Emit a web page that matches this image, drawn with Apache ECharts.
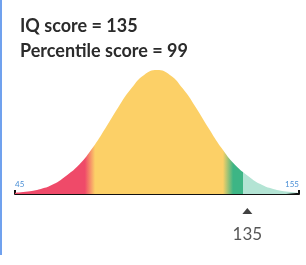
<!DOCTYPE html>
<html>
<head>
<meta charset="utf-8">
<script src="https://cdn.jsdelivr.net/npm/echarts@6/dist/echarts.min.js"></script>
<style>
  html, body { margin: 0; padding: 0; background: #fff; }
  #wrap { position: relative; width: 306px; height: 265px; }
  #bar { position: absolute; left: 0; top: 0; width: 2px; height: 255px; background: #70a1ee; }
  #chart { width: 306px; height: 265px; }
</style>
</head>
<body>
<div id="wrap">
  <div id="chart"></div>
  <div id="bar"></div>
</div>
<script>
// IQ values along the axis and the curve height (percent of peak)
const iqValues = [45, 50, 55, 60, 65, 70, 75, 80, 85, 90, 95, 100, 105, 110, 115, 120, 125, 130, 135, 140, 145, 150, 155]
const curveHeight = [1, 2, 4, 8, 15, 24, 37, 53, 70, 85, 96, 100, 96, 85, 70, 53, 37, 24, 15, 8, 4, 2, 1]
const axisLabels = ['45', '155']
const score = 135
const titleLines = ['IQ score = 135', 'Percentile score = 99']

const COL_RED = '#ef4a69'
const COL_YELLOW = '#fcd067'
const COL_GREEN = '#3db585'
const COL_TEAL = '#b3e4d4'
const TEXT = '#2b2b2b'

const chart = echarts.init(document.getElementById('chart'))

chart.setOption({
  animation: false,
  title: {
    text: titleLines.join('\n'),
    left: 15,
    top: 9,
    textStyle: { color: TEXT, fontFamily: 'Lato', fontWeight: 'bold', fontSize: 18, lineHeight: 25 },
  },
  grid: { left: 15, right: 7, top: 70, bottom: 71 },
  xAxis: {
    type: 'value',
    min: 45,
    max: 155,
    interval: 110,
    splitLine: { show: false },
    axisLine: { lineStyle: { color: '#111', width: 2 } },
    axisTick: { show: true, inside: true, length: 4, lineStyle: { color: '#111', width: 2 } },
    axisLabel: {
      inside: true,
      margin: 6,
      color: '#4a8fd6',
      fontSize: 8,
      fontFamily: 'Lato',
      alignMinLabel: 'left',
      alignMaxLabel: 'right',
      formatter: (v) => (v === 45 ? axisLabels[0] : axisLabels[1]),
    },
  },
  yAxis: { type: 'value', min: 0, max: 100, show: false },
  series: [
    {
      type: 'line',
      data: iqValues.map((v, i) => [v, curveHeight[i]]),
      smooth: true,
      symbol: 'none',
      lineStyle: { width: 0 },
      areaStyle: {
        opacity: 1,
        color: new echarts.graphic.LinearGradient(0, 0, 1, 0, [
          { offset: 0, color: COL_RED },
          { offset: 0.246, color: COL_RED },
          { offset: 0.282, color: COL_YELLOW },
          { offset: 0.732, color: COL_YELLOW },
          { offset: 0.768, color: COL_GREEN },
          { offset: 0.803, color: COL_GREEN },
          { offset: 0.804, color: COL_TEAL },
          { offset: 1, color: COL_TEAL },
        ]),
      },
      z: 1,
    },
    {
      type: 'scatter',
      data: [[score, 0]],
      clip: false,
      symbol: 'triangle',
      symbolSize: [10, 6],
      symbolOffset: [0, 17],
      itemStyle: { color: '#111' },
      label: {
        show: true,
        position: 'bottom',
        distance: 12,
        formatter: String(score),
        color: TEXT,
        fontFamily: 'Lato',
        fontSize: 17,
      },
      z: 5,
    },
  ],
})
</script>
</body>
</html>
